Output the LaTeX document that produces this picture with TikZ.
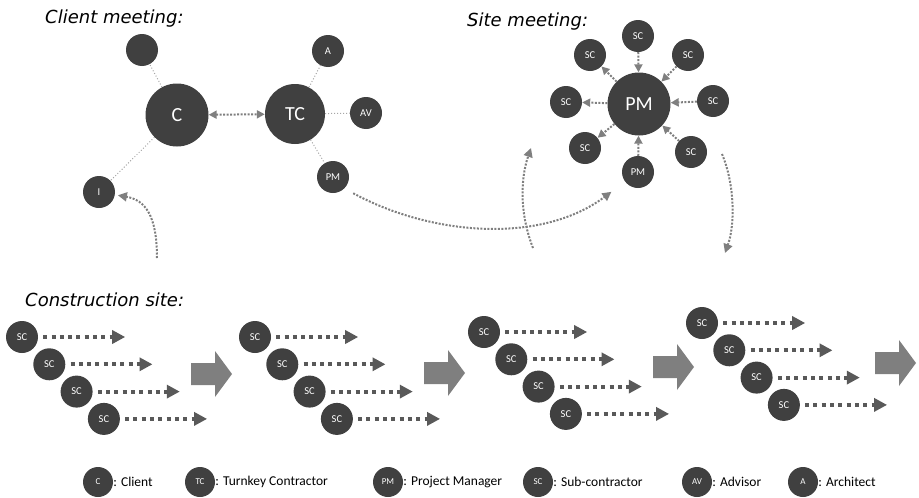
\documentclass[tikz,border=0pt]{standalone}
\usepackage{fontspec}
\setmainfont{Carlito}
\newfontfamily\headfont{DejaVu Sans}
\usepackage{tikz}
\usetikzlibrary{arrows.meta,positioning}
\definecolor{nodegray}{HTML}{404040}
\definecolor{linkgray}{HTML}{A6A6A6}
\definecolor{flowgray}{HTML}{7F7F7F}
\definecolor{taskgray}{HTML}{595959}
\tikzset{
  party/.style = {circle, fill=nodegray, text=white, inner sep=0pt},
  party_big/.style = {party, minimum size=63pt,
    font=\fontsize{20}{20}\selectfont},% main party
  party_sm/.style = {party, minimum size=32pt,
    font=\fontsize{10.5}{10.5}\selectfont},% other party
  party_key/.style = {party, minimum size=30pt,
    font=\fontsize{9}{9}\selectfont},% legend
  keytext/.style = {anchor=west, inner sep=0pt,
    font=\fontsize{13.5}{13.5}\selectfont},
  heading/.style = {anchor=base west, inner sep=0pt,
    font=\headfont\itshape\fontsize{18}{18}\selectfont},
  link/.style = {draw=linkgray, line width=1pt, dash pattern=on 1pt off 2pt},% plain tie
  talk/.style = {draw=flowgray, line width=2pt, dash pattern=on 2pt off 1.5pt,
    -{Triangle[length=8pt,width=8pt]}},
  flow/.style = {draw=flowgray, line width=2pt, dash pattern=on 2pt off 1.5pt,
    -{Triangle[length=9pt,width=9pt]}},
  task/.style = {draw=taskgray, line width=4pt, dash pattern=on 4pt off 4.3pt,
    -{Triangle[length=13pt,width=13pt]}},
  phase/.style = {fill=flowgray}% block arrow between stages
}

\begin{document}
\begin{tikzpicture}[x=1pt,y=-1pt]
\useasboundingbox (0,0) rectangle (919,498);

% client meeting
\node[heading] (t1) at (45,23) {Client meeting:};
\node[party_big] (C) at (177,115) {C};
\node[party_big, minimum size=60pt] (TC) at (295,114) {TC};
\node[party_sm] (blank) at (142,50) {};
\node[party_sm] (I) at (99,192) {I};
\node[party_sm] (A) at (328,51) {A};
\node[party_sm] (AV) at (366,113) {AV};
\node[party_sm] (PM) at (333,177) {PM};
\draw[link] (C) -- (blank);
\draw[link] (C) -- (I);
\draw[link] (TC) -- (A);
\draw[link] (TC) -- (AV);
\draw[link] (TC) -- (PM);
\draw[talk, {Triangle[length=8pt,width=8pt]}-{Triangle[length=8pt,width=8pt]}] (C) -- (TC);

% site meeting
\node[heading] (t2) at (467,26) {Site meeting:};
\node[party_big] (SPM) at (639,104) {PM};
\node[party_sm] (s1) at (638,36) {SC};
\node[party_sm] (s2) at (688,55) {SC};
\node[party_sm] (s3) at (713,101) {SC};
\node[party_sm] (s4) at (691,152) {SC};
\node[party_sm] (s5) at (638,172) {PM};
\node[party_sm] (s6) at (585,148) {SC};
\node[party_sm] (s7) at (566,102) {SC};
\node[party_sm] (s8) at (590,55) {SC};
\draw[talk] (s1) -- (SPM);
\draw[talk] (s2) -- (SPM);
\draw[talk] (s3) -- (SPM);
\draw[talk] (s4) -- (SPM);
\draw[talk] (s5) -- (SPM);
\draw[talk] (SPM) -- (s6);
\draw[talk] (SPM) -- (s7);
\draw[talk] (SPM) -- (s8);

% between the meetings and the site
\coordinate (fromsite) at (157,258);
\coordinate (up0) at (533,248);
\coordinate (up1) at (531,148);
\coordinate (dn0) at (722,154);
\coordinate (dn1) at (725,253);
\draw[flow, shorten >=3pt] (fromsite) .. controls (157,215) and (145,200) .. (I);
\draw[flow, shorten <=10pt, shorten >=17pt] (PM.south east) .. controls (430,235) and (540,245) .. (s5);
\draw[flow] (up0) .. controls (520,215) and (520,180) .. (up1);
\draw[flow] (dn0) .. controls (735,185) and (735,225) .. (dn1);

% construction site
\node[heading] (t3) at (25,306) {Construction site:};
\foreach \g/\x/\y in {1/22/337, 2/255/337, 3/484/332, 4/702/323} {
  \foreach \r in {0,...,3} {
    \node[party_sm] (sc\g\r) at (\x+27.3*\r, \y+27.3*\r) {SC};
    \coordinate[right=87pt of sc\g\r.east] (end\g\r);
    \draw[task] ([xshift=5pt]sc\g\r.east) -- (end\g\r);
  }
}
\foreach \x/\y in {191/374, 424/373, 653/367, 875/363}
  \fill[phase] (\x,\y-11) -- ++(24,0) -- ++(0,-12) -- ++(17,23)
    -- ++(-17,23) -- ++(0,-12) -- ++(-24,0) -- cycle;

% legend
\foreach \x/\k/\t in {98/C/Client, 200/TC/Turnkey Contractor, 388/PM/Project Manager,
    538/SC/Sub-contractor, 697/AV/Advisor, 803/A/Architect} {
  \node[party_key] (key\k) at (\x,482) {\k};
  \node[keytext, right=0pt of key\k] (lbl\k) {: \t};
}
\end{tikzpicture}
\end{document}
